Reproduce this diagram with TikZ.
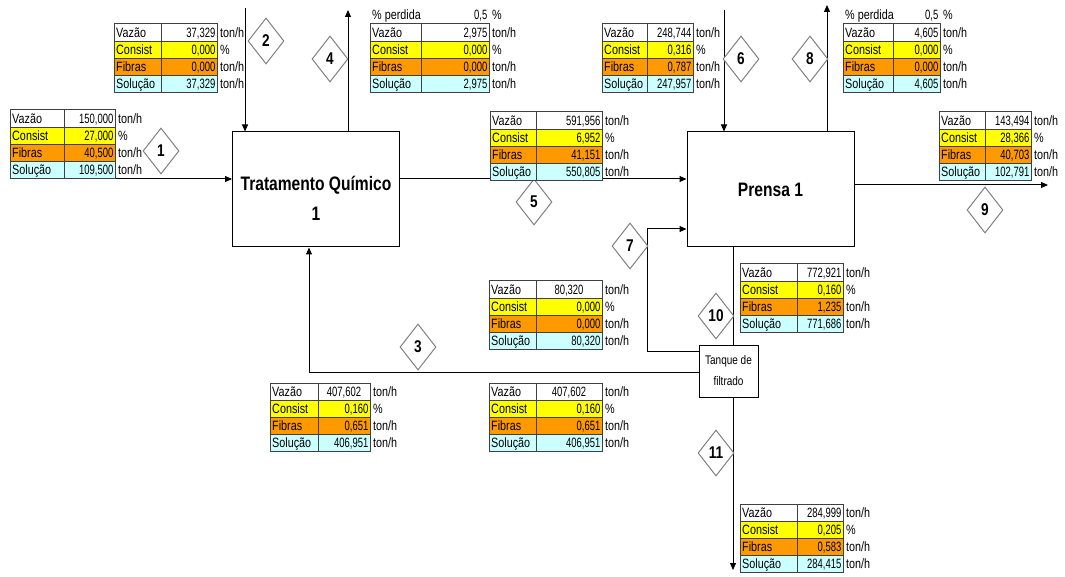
\documentclass[tikz,border=0pt]{standalone}
\usepackage{fontspec}
\setmainfont{Liberation Sans}[FakeStretch=0.8]
\newfontfamily\numfont{Liberation Sans}[FakeStretch=0.7]
\usetikzlibrary{arrows.meta,shapes.geometric}
\definecolor{ycol}{HTML}{FFFF00}
\definecolor{ocol}{HTML}{FF9900}
\definecolor{ccol}{HTML}{CCFFFF}
\definecolor{tline}{HTML}{404040}
\definecolor{dline}{HTML}{808080}
\newif\ifvcent
\def\rh{17.2}
\tikzset{
  tabfont/.style={font=\fontsize{13.5}{14}\selectfont},
  numtab/.style={font=\fontsize{13.5}{14}\numfont},
  lab/.style={tabfont,inner sep=0pt,anchor=base west},
  val/.style={numtab,inner sep=0pt,anchor=base east},
  valc/.style={numtab,inner sep=0pt,anchor=base},
  unit/.style={tabfont,inner sep=0pt,anchor=base west},
  tab/.style={draw=tline,line width=1pt},
  flow/.style={draw=black,line width=1pt,-{Triangle[length=7pt,width=6pt]}},
  plain/.style={draw=black,line width=1pt},
  num/.style={diamond,draw=dline,fill=white,line width=1pt,minimum width=36pt,minimum height=46pt,inner sep=0pt,font=\fontsize{17}{17}\selectfont\bfseries},
  procbox/.style={draw=black,line width=1pt,fill=white,minimum width=167pt,minimum height=115pt,inner sep=0pt},
  tankbox/.style={draw=black,line width=1pt,fill=white,minimum width=59pt,minimum height=52pt,inner sep=0pt,align=center,font=\fontsize{12.5}{21}\selectfont},
  title/.style={inner sep=0pt,align=center,font=\bfseries\fontsize{19.5}{30}\selectfont}
}
% #1 name, #2 x, #3 y(top), #4 label width, #5 value width, #6-#9 values
\newcommand{\stab}[9]{%
\begin{scope}[shift={(#2,#3)}]
  \fill[white] (0,0) rectangle (#4+#5,\rh);
  \fill[ycol] (0,\rh) rectangle (#4+#5,2*\rh);
  \fill[ocol] (0,2*\rh) rectangle (#4+#5,3*\rh);
  \fill[ccol] (0,3*\rh) rectangle (#4+#5,4*\rh);
  \draw[tab] (0,0) rectangle (#4+#5,4*\rh);
  \draw[tab] (0,\rh) -- (#4+#5,\rh) (0,2*\rh) -- (#4+#5,2*\rh) (0,3*\rh) -- (#4+#5,3*\rh);
  \draw[tab] (#4,0) -- (#4,4*\rh);
  \node[lab] (#1-l1) at (2,\rh-4) {Vazão};
  \node[lab] (#1-l2) at (2,2*\rh-4) {Consist};
  \node[lab] (#1-l3) at (2,3*\rh-4) {Fibras};
  \node[lab] (#1-l4) at (2,4*\rh-4) {Solução};
  \ifvcent
    \node[valc] (#1-v1) at (#4+0.5*#5,\rh-4) {#6};
  \else
    \node[val] (#1-v1) at (#4+#5-1.5,\rh-4) {#6};
  \fi
  \node[val] (#1-v2) at (#4+#5-1.5,2*\rh-4) {#7};
  \node[val] (#1-v3) at (#4+#5-1.5,3*\rh-4) {#8};
  \node[val] (#1-v4) at (#4+#5-1.5,4*\rh-4) {#9};
  \node[unit] (#1-u1) at (#4+#5+3,\rh-4) {ton/h};
  \node[unit] (#1-u2) at (#4+#5+3,2*\rh-4) {\%};
  \node[unit] (#1-u3) at (#4+#5+3,3*\rh-4) {ton/h};
  \node[unit] (#1-u4) at (#4+#5+3,4*\rh-4) {ton/h};
\end{scope}}
% #1 name, #2 x, #3 y(top of table), #4 total width
\newcommand{\perd}[4]{%
\begin{scope}[shift={(#2,#3)}]
  \node[lab] (#1-pl) at (2,-4) {\% perdida};
  \node[val] (#1-pv) at (#4-1.5,-4) {0,5};
  \node[unit] (#1-pu) at (#4+3,-4) {\%};
\end{scope}}
\begin{document}
\begin{tikzpicture}[x=1pt,y=-1pt]
\useasboundingbox (0,0) rectangle (1065,577);
% process boxes
\node[procbox] (box1) at (316,189.5) {};
\node[title] (title1) at (316,198) {Tratamento Químico\\1};
\node[procbox,font=\bfseries\fontsize{19.5}{22}\selectfont] (box2) at (770.5,189.5) {Prensa 1};
\node[tankbox] (tank) at (728.5,371) {Tanque de\\filtrado};
% coordinates
\coordinate (s1a) at (10,179);
\coordinate (s2a) at (245,8);
\coordinate (s4b) at (348,10);
\coordinate (s5y) at (500,179);
\coordinate (s6a) at (724,10);
\coordinate (s8b) at (827,5);
\coordinate (s9y) at (900,185);
\coordinate (s9b) at (1048,185);
\coordinate (s10x) at (733,300);
\coordinate (s11b) at (733,570);
\coordinate (c7a) at (647,351);
\coordinate (c7b) at (647,229);
\coordinate (c3) at (309,372);
% streams
\draw[flow] (s1a) -- (box1.west |- s1a);
\draw[flow] (s2a) -- (s2a |- box1.north);
\draw[flow] (s4b |- box1.north) -- (s4b);
\draw[flow] (box1.east |- s5y) -- (box2.west |- s5y);
\draw[flow] (s6a) -- (s6a |- box2.north);
\draw[flow] (s8b |- box2.north) -- (s8b);
\draw[flow] (box2.east |- s9y) -- (s9b);
\draw[plain] (s10x |- box2.south) -- (s10x |- tank.north);
\draw[flow] (tank.west |- c7a) -- (c7a) -- (c7b) -- (box2.west |- c7b);
\draw[flow] (tank.west |- c3) -- (c3) -- (c3 |- box1.south);
\draw[flow] (s11b |- tank.south) -- (s11b);
% stream numbers
\node[num] (d1) at (161,151) {1};
\node[num] (d2) at (266,41) {2};
\node[num] (d3) at (418,347) {3};
\node[num] (d4) at (330,59) {4};
\node[num] (d5) at (534,202) {5};
\node[num] (d6) at (741,59) {6};
\node[num] (d7) at (630,246) {7};
\node[num] (d8) at (810,59) {8};
\node[num] (d9) at (985,210) {9};
\node[num] (d10) at (716,316) {10};
\node[num] (d11) at (716,453) {11};
% tables
\vcentfalse
\stab{t1}{10}{110}{54}{51}{150,000}{27,000}{40,500}{109,500}
\stab{t2}{114}{24}{47}{56}{37,329}{0,000}{0,000}{37,329}
\stab{t4}{370}{24}{51}{68}{2,975}{0,000}{0,000}{2,975}
\perd{p4}{370}{24}{119}
\stab{t6}{602}{24}{45}{46}{248,744}{0,316}{0,787}{247,957}
\stab{t8}{843}{24}{50}{47}{4,605}{0,000}{0,000}{4,605}
\perd{p8}{843}{24}{97}
\stab{t5}{490}{112}{46}{66}{591,956}{6,952}{41,151}{550,805}
\stab{t9}{939}{112}{46}{46}{143,494}{28,366}{40,703}{102,791}
\stab{t10}{740}{264}{57}{46}{772,921}{0,160}{1,235}{771,686}
\stab{t11}{740}{504}{57}{46}{284,999}{0,205}{0,583}{284,415}
\vcenttrue
\stab{t7}{489}{281}{47}{66}{80,320}{0,000}{0,000}{80,320}
\stab{t3a}{270}{383}{48}{52}{407,602}{0,160}{0,651}{406,951}
\stab{t3b}{489}{383}{47}{66}{407,602}{0,160}{0,651}{406,951}
\end{tikzpicture}
\end{document}
